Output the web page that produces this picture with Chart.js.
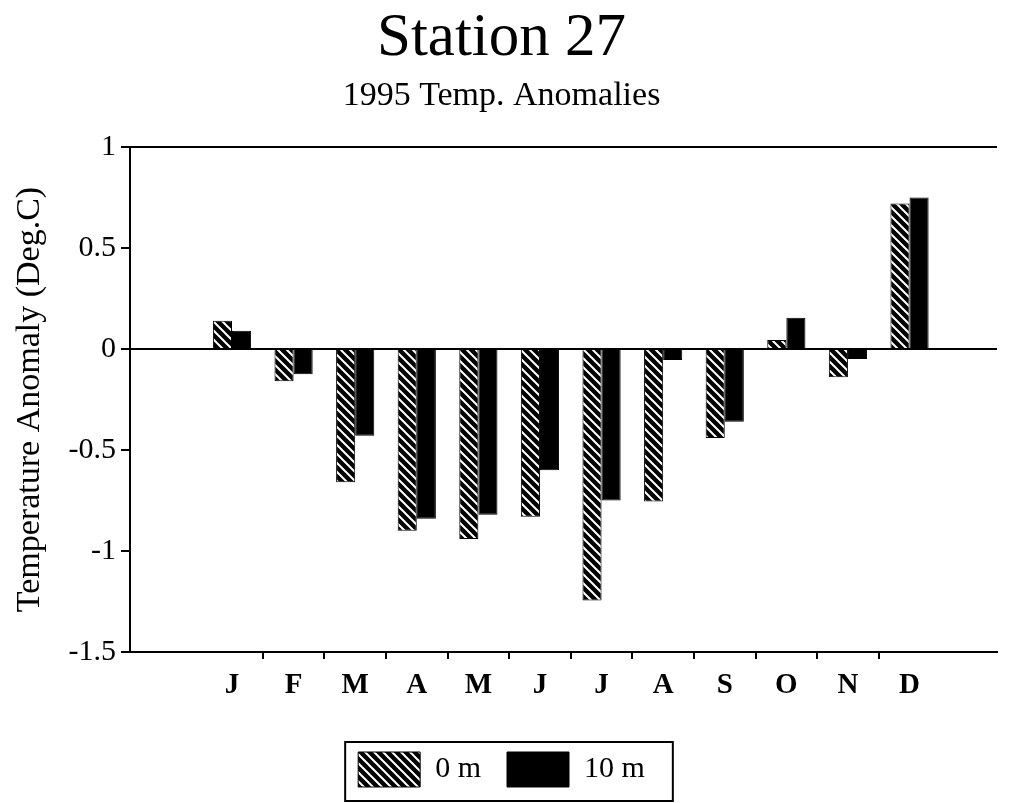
<!DOCTYPE html>
<html>
<head>
<meta charset="utf-8">
<title>Station 27</title>
<script src="https://cdn.jsdelivr.net/npm/chart.js@4.4.1/dist/chart.umd.min.js"></script>
<style>
  html, body { margin: 0; padding: 0; background: #fff; }
  #wrap { width: 1010px; height: 803px; }
</style>
</head>
<body>
<div id="wrap"><canvas id="chart" width="1010" height="803"></canvas></div>
<script>
// data
const months = ["J", "F", "M", "A", "M", "J", "J", "A", "S", "O", "N", "D"];
const surface = [0.14, -0.16, -0.66, -0.90, -0.94, -0.83, -1.245, -0.755, -0.44, 0.045, -0.14, 0.72];
const tenMetre = [0.09, -0.125, -0.43, -0.84, -0.82, -0.60, -0.75, -0.055, -0.36, 0.155, -0.05, 0.75];
const yTicks = [-1.5, -1, -0.5, 0, 0.5, 1];
const yTickLabels = ["-1.5", "-1", "-0.5", "0", "0.5", "1"];

const serif = "'Liberation Serif', 'Times New Roman', serif";

// black fill with white diagonal stripes
function makeHatch() {
  const size = 9;
  const c = document.createElement("canvas");
  c.width = size;
  c.height = size;
  const g = c.getContext("2d");
  g.fillStyle = "#000";
  g.fillRect(0, 0, size, size);
  g.strokeStyle = "#fff";
  g.lineWidth = 2;
  g.beginPath();
  g.moveTo(-1, -1); g.lineTo(size + 1, size + 1);
  g.moveTo(-1, size - 1); g.lineTo(1, size + 1);
  g.moveTo(size - 1, -1); g.lineTo(size + 1, 1);
  g.stroke();
  return g.createPattern(c, "repeat");
}

// frame round the legend
const legendFrame = {
  id: "legendFrame",
  afterDraw(chart) {
    const boxes = chart.legend && chart.legend.legendHitBoxes;
    if (!boxes || !boxes.length) return;
    const first = boxes[0];
    const last = boxes[boxes.length - 1];
    const ctx = chart.ctx;
    ctx.save();
    ctx.strokeStyle = "#000";
    ctx.lineWidth = 2;
    const left = first.left - 13;
    const top = first.top - 10;
    const right = last.left + last.width + 28;
    const bottom = first.top + first.height + 14;
    ctx.strokeRect(left, top, right - left, bottom - top);
    ctx.restore();
  }
};

const ctx = document.getElementById("chart").getContext("2d");
const hatch = makeHatch();

new Chart(ctx, {
  type: "bar",
  data: {
    datasets: [
      {
        label: "0 m",
        data: surface.map((v, i) => ({ x: i + 1, y: v })),
        backgroundColor: hatch,
        borderColor: "#000",
        borderWidth: 1,
      },
      {
        label: "10 m",
        data: tenMetre.map((v, i) => ({ x: i + 1, y: v })),
        backgroundColor: "#000",
        borderColor: "#000",
        borderWidth: 1,
      },
    ],
  },
  options: {
    responsive: false,
    animation: false,
    layout: { padding: { left: 6, right: 13, top: 0, bottom: 6 } },
    datasets: {
      bar: { categoryPercentage: 0.62, barPercentage: 1 },
    },
    scales: {
      x: {
        type: "linear",
        min: -0.656,
        max: 13.42,
        offset: false,
        afterBuildTicks(scale) {
          scale.ticks = months.map((m, i) => ({ value: i + 1 }));
        },
        afterFit(scale) {
          scale.height = 74;
        },
        ticks: {
          autoSkip: false,
          maxRotation: 0,
          padding: 9,
          color: "#000",
          font: { family: serif, size: 29, weight: "bold" },
          callback: (v) => months[Math.round(v) - 1],
        },
        grid: {
          offset: true,
          drawOnChartArea: false,
          drawTicks: true,
          tickLength: 7,
          lineWidth: 2,
          color: (c) => (c.index >= 1 && c.index <= 11 ? "#000" : "rgba(0,0,0,0)"),
        },
        border: { display: true, color: "#000", width: 2 },
      },
      y: {
        min: -1.5,
        max: 1,
        afterBuildTicks(scale) {
          scale.ticks = yTicks.map((v) => ({ value: v }));
        },
        afterFit(scale) {
          scale.width = 124;
        },
        ticks: {
          padding: 5,
          color: "#000",
          font: { family: serif, size: 30 },
          callback: (v, i) => yTickLabels[i],
        },
        grid: {
          drawTicks: true,
          tickLength: 9,
          lineWidth: 2,
          color: (c) => (c.tick && (c.tick.value === 0 || c.tick.value === 1) ? "#000" : "rgba(0,0,0,0)"),
          tickColor: "#000",
        },
        border: { display: true, color: "#000", width: 2 },
        title: {
          display: true,
          text: "Temperature Anomaly (Deg.C)",
          color: "#000",
          font: { family: serif, size: 34 },
          padding: { top: 4, bottom: 4 },
        },
      },
    },
    plugins: {
      title: {
        display: true,
        text: "Station 27",
        color: "#000",
        font: { family: serif, size: 61, weight: "normal", lineHeight: 1 },
        padding: { top: 8, bottom: 0 },
      },
      subtitle: {
        display: true,
        text: "1995 Temp. Anomalies",
        color: "#000",
        font: { family: serif, size: 34, lineHeight: 1 },
        padding: { top: 10, bottom: 34 },
      },
      legend: {
        position: "bottom",
        labels: {
          color: "#000",
          boxWidth: 62,
          boxHeight: 35,
          padding: 26,
          font: { family: serif, size: 30 },
        },
      },
      tooltip: { enabled: false },
    },
  },
  plugins: [legendFrame],
});
</script>
</body>
</html>
